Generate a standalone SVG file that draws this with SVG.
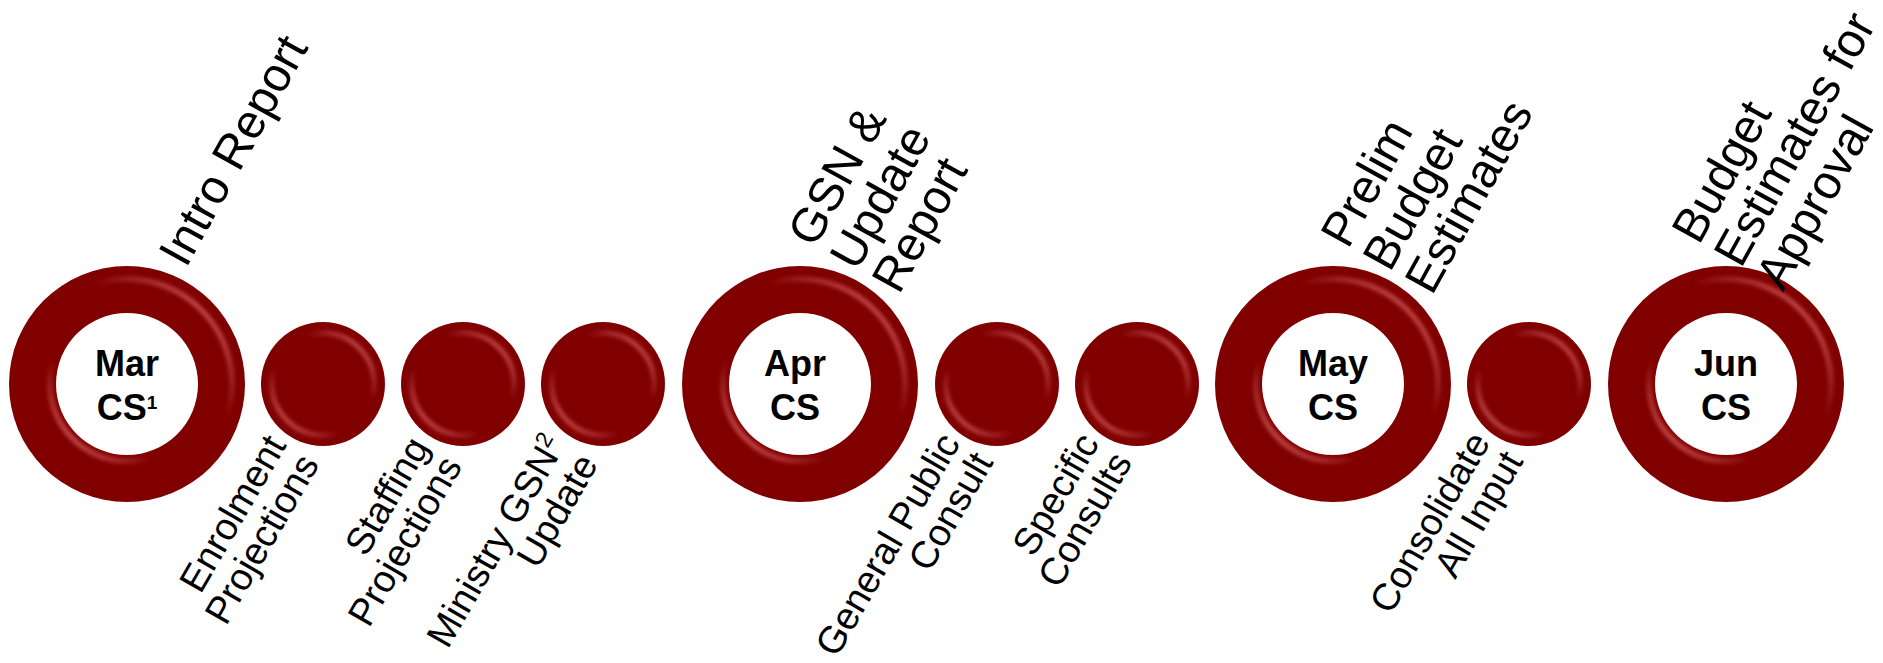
<svg xmlns="http://www.w3.org/2000/svg" xmlns:xlink="http://www.w3.org/1999/xlink" width="1883" height="663" viewBox="0 0 1883 663">
  <defs>
    <style>
      .month { font-family: "Liberation Sans", Arial, sans-serif; font-weight: bold; font-size: 36px; fill: #000; text-anchor: middle; }
      .top { font-family: "Liberation Sans", Arial, sans-serif; font-size: 48px; fill: #000; }
      .bot { font-family: "Liberation Sans", Arial, sans-serif; font-size: 38px; fill: #000; text-anchor: end; }
      .sup { font-size: 19px; }
      .sup2 { font-size: 23px; }
      .base { fill: #800000; }
      .hl { fill: none; }
    </style>
    <linearGradient id="hlUR" x1="0" y1="1" x2="1" y2="0">
      <stop offset="0" stop-color="#cf5656" stop-opacity="0"/>
      <stop offset="0.66" stop-color="#cf5656" stop-opacity="0"/>
      <stop offset="0.86" stop-color="#cf5656" stop-opacity="0.95"/>
      <stop offset="1" stop-color="#cf5656" stop-opacity="0.95"/>
    </linearGradient>
    <linearGradient id="hlLL" x1="1" y1="0" x2="0" y2="1">
      <stop offset="0" stop-color="#cf5656" stop-opacity="0"/>
      <stop offset="0.66" stop-color="#cf5656" stop-opacity="0"/>
      <stop offset="0.86" stop-color="#cf5656" stop-opacity="0.95"/>
      <stop offset="1" stop-color="#cf5656" stop-opacity="0.95"/>
    </linearGradient>
    <filter id="soft" x="-20%" y="-20%" width="140%" height="140%">
      <feGaussianBlur stdDeviation="2"/>
    </filter>
    <g id="ring">
      <path class="base" fill-rule="evenodd" d="M-118,0a118,118 0 1,0 236,0a118,118 0 1,0 -236,0Z M-71,0a71,71 0 1,0 142,0a71,71 0 1,0 -142,0Z"/>
      <circle class="hl" r="105" stroke="url(#hlUR)" stroke-width="4.5" filter="url(#soft)"/>
      <circle class="hl" r="77" stroke="url(#hlLL)" stroke-width="4.5" filter="url(#soft)"/>
    </g>
    <g id="dot">
      <circle class="base" r="62"/>
      <circle class="hl" r="51" stroke="url(#hlUR)" stroke-width="4" filter="url(#soft)"/>
      <circle class="hl" r="51" stroke="url(#hlLL)" stroke-width="4" filter="url(#soft)"/>
    </g>
  </defs>

  <rect width="1883" height="663" fill="#fff"/>

  <g id="node-mar">
    <use xlink:href="#ring" href="#ring" x="127" y="384"/>
    <text class="month" x="127" y="376">Mar</text>
    <text class="month" x="127" y="420">CS<tspan class="sup" dy="-11">1</tspan></text>
    <text class="top" transform="translate(186,269) rotate(-61)">Intro Report</text>
  </g>

  <g id="node-enrolment">
    <use xlink:href="#dot" href="#dot" x="323" y="384"/>
    <text class="bot" transform="translate(287,445) rotate(-60)"><tspan x="0" y="0">Enrolment</tspan><tspan x="0" dy="38">Projections</tspan></text>
  </g>

  <g id="node-staffing">
    <use xlink:href="#dot" href="#dot" x="463" y="384"/>
    <text class="bot" transform="translate(430,447) rotate(-60)"><tspan x="0" y="0">Staffing</tspan><tspan x="0" dy="38">Projections</tspan></text>
  </g>

  <g id="node-ministry">
    <use xlink:href="#dot" href="#dot" x="603" y="384"/>
    <text class="bot" transform="translate(566,445) rotate(-60)"><tspan x="0" y="0">Ministry GSN</tspan><tspan class="sup2" dy="-14">2</tspan><tspan x="0" dy="52">Update</tspan></text>
  </g>

  <g id="node-apr">
    <use xlink:href="#ring" href="#ring" x="800" y="384"/>
    <text class="month" x="795" y="376">Apr</text>
    <text class="month" x="795" y="420">CS</text>
    <text class="top" transform="translate(815,249) rotate(-61)"><tspan x="0" y="0">GSN &amp;</tspan><tspan x="0" dy="48">Update</tspan><tspan x="0" dy="48">Report</tspan></text>
  </g>

  <g id="node-general">
    <use xlink:href="#dot" href="#dot" x="997" y="384"/>
    <text class="bot" transform="translate(961,443) rotate(-60)"><tspan x="0" y="0">General Public</tspan><tspan x="0" dy="38">Consult</tspan></text>
  </g>

  <g id="node-specific">
    <use xlink:href="#dot" href="#dot" x="1137" y="384"/>
    <text class="bot" transform="translate(1100,443) rotate(-60)"><tspan x="0" y="0">Specific</tspan><tspan x="0" dy="38">Consults</tspan></text>
  </g>

  <g id="node-may">
    <use xlink:href="#ring" href="#ring" x="1333" y="384"/>
    <text class="month" x="1333" y="376">May</text>
    <text class="month" x="1333" y="420">CS</text>
    <text class="top" transform="translate(1348,250) rotate(-61)"><tspan x="0" y="0">Prelim</tspan><tspan x="0" dy="48">Budget</tspan><tspan x="0" dy="48">Estimates</tspan></text>
  </g>

  <g id="node-consolidate">
    <use xlink:href="#dot" href="#dot" x="1529" y="384"/>
    <text class="bot" transform="translate(1491,442) rotate(-60)"><tspan x="0" y="0">Consolidate</tspan><tspan x="0" dy="38">All Input</tspan></text>
  </g>

  <g id="node-jun">
    <use xlink:href="#ring" href="#ring" x="1726" y="384"/>
    <text class="month" x="1726" y="376">Jun</text>
    <text class="month" x="1726" y="420">CS</text>
    <text class="top" transform="translate(1699,246) rotate(-61)"><tspan x="0" y="0">Budget</tspan><tspan x="0" dy="48">Estimates for</tspan><tspan x="0" dy="48">Approval</tspan></text>
  </g>
</svg>
